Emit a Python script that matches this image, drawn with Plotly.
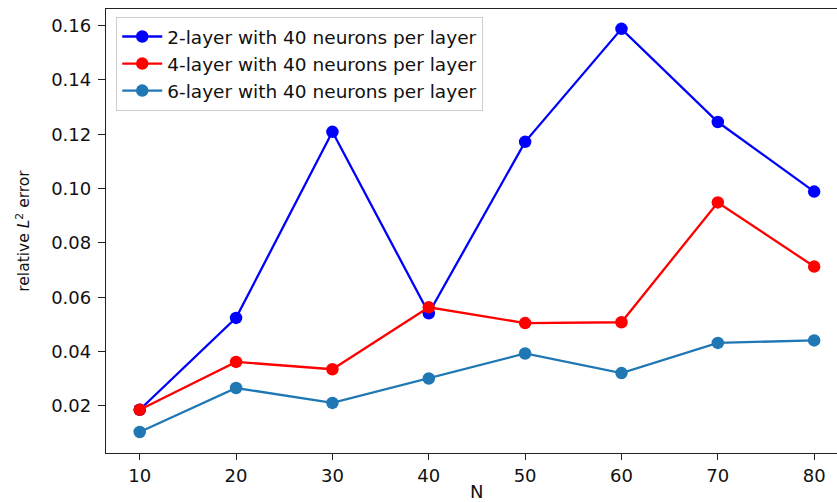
import plotly.graph_objects as go

# Number of training points N
n_values = [10, 20, 30, 40, 50, 60, 70, 80]

# Relative L2 error for each network depth
err_2layer = [0.0186, 0.0524, 0.1209, 0.0541, 0.1172, 0.1588, 0.1245, 0.0989]
err_4layer = [0.0186, 0.0362, 0.0335, 0.0563, 0.0505, 0.0508, 0.0949, 0.0713]
err_6layer = [0.0104, 0.0266, 0.0211, 0.0301, 0.0393, 0.0321, 0.0432, 0.0441]

series_names = [
    "2-layer with 40 neurons per layer",
    "4-layer with 40 neurons per layer",
    "6-layer with 40 neurons per layer",
]
series_colors = ["#0000ff", "#ff0000", "#1f77b4"]
y_ticks = [0.02, 0.04, 0.06, 0.08, 0.10, 0.12, 0.14, 0.16]
x_ticks = [10, 20, 30, 40, 50, 60, 70, 80]

FONT = "DejaVu Sans"

fig = go.Figure()
for name, ys, col in zip(series_names, [err_2layer, err_4layer, err_6layer], series_colors):
    fig.add_trace(go.Scatter(
        x=n_values, y=ys, name=name, mode="lines+markers",
        line=dict(color=col, width=2.3),
        marker=dict(color=col, size=12.5),
    ))

fig.update_layout(
    width=837, height=502,
    margin=dict(l=106, r=0, t=9, b=49),
    paper_bgcolor="white", plot_bgcolor="white",
    font=dict(family=FONT, size=17, color="#111111"),
    showlegend=True,
    legend=dict(
        x=0.014, y=0.982, xanchor="left", yanchor="top",
        bgcolor="rgba(255,255,255,0.85)", bordercolor="#cccccc", borderwidth=1,
        font=dict(family=FONT, size=18.5, color="#111111"),
        tracegroupgap=0, itemwidth=40,
    ),
    xaxis=dict(
        range=[6.5, 82.37], tickvals=x_ticks, ticktext=[str(v) for v in x_ticks],
        showgrid=False, zeroline=False,
        showline=True, linecolor="#222222", linewidth=1.3, mirror=True,
        ticks="outside", ticklen=6, tickcolor="#222222", tickwidth=1.2,
        tickfont=dict(family=FONT, size=18),
    ),
    yaxis=dict(
        range=[0.00267, 0.1661], tickvals=y_ticks,
        ticktext=[f"{v:.2f}" for v in y_ticks],
        showgrid=False, zeroline=False,
        showline=True, linecolor="#222222", linewidth=1.3,
        ticks="outside", ticklen=7, tickcolor="#222222", tickwidth=1.2,
        ticklabelstandoff=3,
        tickfont=dict(family=FONT, size=18),
        title=dict(text="relative <i>L</i><sup>2</sup> error",
                   font=dict(family=FONT, size=15.5), standoff=17),
    ),
)

# x-axis label centred on the full data span
fig.add_annotation(
    x=45, y=0, xref="x", yref="paper", yshift=-38,
    text="N", showarrow=False, xanchor="center", yanchor="middle",
    font=dict(family=FONT, size=18, color="#111111"),
)

fig.write_html("out.html")
